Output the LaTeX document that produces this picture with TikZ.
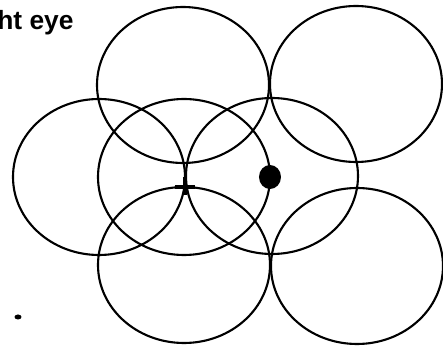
\documentclass[tikz,border=0pt]{standalone}
\usepackage{fontspec}
\setmainfont{Liberation Sans}
\usetikzlibrary{positioning}

\begin{document}
\begin{tikzpicture}[
    x=0.2mm, y=-0.2mm,
    field/.style={draw, line width=1.2pt},
    spot/.style={fill=black},
    label/.style={font=\fontsize{15}{17}\selectfont\bfseries, inner sep=0pt, anchor=base west}
]
\useasboundingbox (0,0) rectangle (443,347);

% ------------------------
% Overlapping fields
% ------------------------
\foreach \cx/\cy in {183/85, 356/84, 99/177, 184/177, 272/176, 184/265, 357/266}
  \draw[field] (\cx,\cy) ellipse [x radius=1.72cm, y radius=1.56cm];

% ------------------------
% Marks
% ------------------------
\coordinate (fix) at (185,187);
\draw[line width=2.2pt] ([xshift=-2mm]fix) -- ([xshift=2mm]fix);
\draw[line width=2.2pt] ([yshift=2mm]fix) -- ([yshift=-1.6mm]fix);

\fill[spot] (270,177) ellipse [x radius=0.22cm, y radius=0.24cm];
\fill[spot] (18,317) ellipse [x radius=0.07cm, y radius=0.05cm];

% ------------------------
% Label
% ------------------------
\node[label] (eye) at (-3,30) {ht eye};

\end{tikzpicture}
\end{document}
